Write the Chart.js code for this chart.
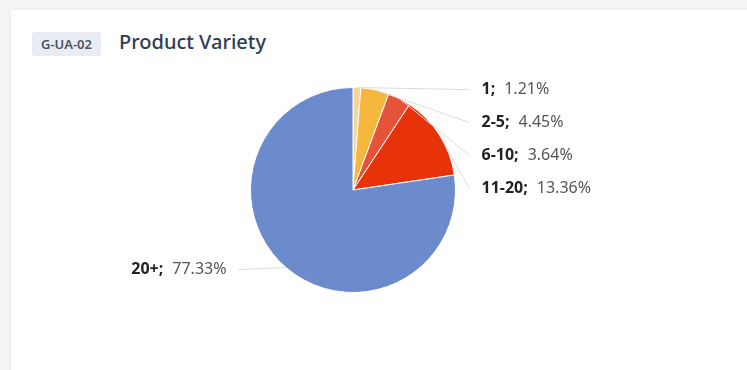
<!DOCTYPE html>
<html>
<head>
<meta charset="utf-8">
<script src="https://cdn.jsdelivr.net/npm/chart.js@4"></script>
<style>
body{margin:0;background:#f4f4f6;width:747px;height:370px;overflow:hidden;font-family:"Open Sans",sans-serif;}
.card{position:absolute;left:11px;top:10px;width:760px;height:380px;background:#fff;box-shadow:0 0 3px rgba(0,0,0,0.08);}
.badge{position:absolute;left:21px;top:22px;height:24px;line-height:24px;padding:0 9px;background:#e9edf3;border-radius:3px;font-size:13px;color:#4b5160;font-weight:600;font-family:"Noto Sans",sans-serif;}
.title{position:absolute;left:108px;top:18px;font-size:20px;color:#2f3b55;font-weight:500;font-family:"Noto Sans",sans-serif;}
.wrap{position:absolute;left:0;top:60px;width:736px;height:300px;}
</style>
</head>
<body>
<div class="card">
<div class="badge">G-UA-02</div>
<div class="title">Product Variety</div>
<div class="wrap"><canvas id="pieChart"></canvas></div>
</div>
<script>

const categories=["1","2-5","6-10","11-20","20+"];
const shares=[1.21,4.45,3.64,13.36,77.33];
const colors=["#f8d49b","#f5b83c","#e5533a","#e8320a","#6b8bcd"];

const labelFont="'Noto Sans', sans-serif";

// draws "name;  value%" labels with leader lines, stacked so they don't overlap
const pieLabels={
id:"pieLabels",
afterDraw(chart){
const ctx=chart.ctx;
const arcs=chart.getDatasetMeta(0).data;
const items=arcs.map((arc,i)=>{
const mid=(arc.startAngle+arc.endAngle)/2;
const r=arc.outerRadius;
return {i:i,ex:arc.x+Math.cos(mid)*r,ey:arc.y+Math.sin(mid)*r,cx:arc.x,r:r,right:Math.cos(mid)>=0};
});
const gap=33;
[true,false].forEach(side=>{
const list=items.filter(it=>it.right===side).sort((a,b)=>a.ey-b.ey);
let last=-Infinity;
list.forEach(it=>{
it.ly=Math.max(it.ey+2,last+gap);
last=it.ly;
});
});
ctx.save();
ctx.textBaseline="middle";
items.forEach(it=>{
const name=categories[it.i]+";";
const val=shares[it.i].toFixed(2)+"%";
ctx.font="bold 16px "+labelFont;
const nw=ctx.measureText(name).width+9;
ctx.font="16px "+labelFont;
const vw=ctx.measureText(val).width;
let lineEnd,textX;
if(it.right){
lineEnd=it.cx+it.r+14;
textX=lineEnd+12;
}else{
lineEnd=it.cx-it.r-12;
textX=lineEnd-12-nw-vw;
}
ctx.strokeStyle="#dcdcdc";
ctx.lineWidth=1;
ctx.beginPath();
ctx.moveTo(it.ex,it.ey);
ctx.lineTo(lineEnd,it.ly);
ctx.stroke();
ctx.font="bold 16px "+labelFont;
ctx.fillStyle="#222";
ctx.fillText(name,textX,it.ly);
ctx.font="16px "+labelFont;
ctx.fillStyle="#555";
ctx.fillText(val,textX+nw,it.ly);
});
ctx.restore();
}
};

new Chart(document.getElementById("pieChart"),{
type:"pie",
data:{
labels:categories,
datasets:[{
data:shares,
backgroundColor:colors,
borderColor:"#fff",
borderWidth:1
}]
},
options:{
responsive:true,
maintainAspectRatio:false,
animation:false,
layout:{padding:{left:136,right:188,top:17,bottom:77}},
plugins:{legend:{display:false},tooltip:{enabled:false}}
},
plugins:[pieLabels]
});

</script>
</body>
</html>
